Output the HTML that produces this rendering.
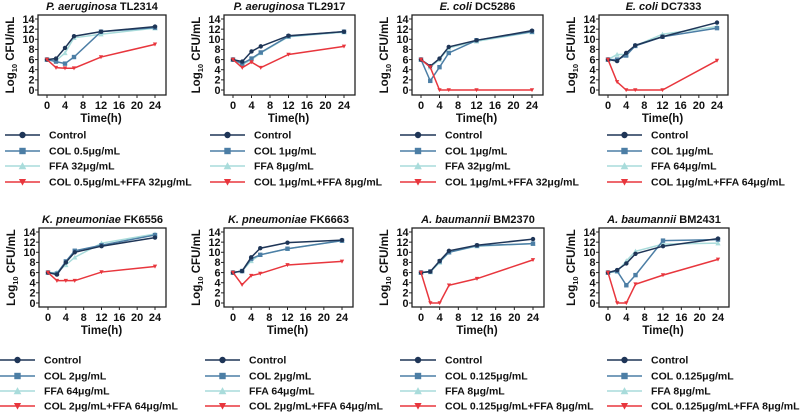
<!DOCTYPE html>
<html><head><meta charset="utf-8"><style>
html,body{margin:0;padding:0;background:#fff;}
svg{display:block;font-family:"Liberation Sans",Arial,sans-serif;font-weight:bold;}
</style></head><body>
<svg id="fig" width="800" height="412" viewBox="0 0 800 412" xmlns="http://www.w3.org/2000/svg"></svg>
<script>
const times=[0,2,4,6,12,24];
const xTicks=[0,4,8,12,16,20,24];
const yTicks=[0,2,4,6,8,10,12,14];
const seriesNames=["Control","COL","FFA","COL+FFA"];
const colors=["#1e3557","#4c7ea5","#a9dcdb","#e8363d"];
const titlesItalic=["P. aeruginosa","P. aeruginosa","E. coli","E. coli","K. pneumoniae","K. pneumoniae","A. baumannii","A. baumannii"];
const titlesStrain=["TL2314","TL2917","DC5286","DC7333","FK6556","FK6663","BM2370","BM2431"];
const control=[[6,6.2,8.3,10.6,11.5,12.5],[6,5.6,7.6,8.6,10.7,11.5],[6,4.7,6.2,8.5,9.8,11.7],[6,5.7,7.3,8.8,10.5,13.3],[6,5.6,8,10,11.2,12.9],[6,6.3,9,10.8,11.9,12.4],[6,6.2,8.3,10.3,11.4,12.6],[6,6.5,7.8,9.7,11.2,12.7]];
const col=[[6,5.6,5.2,6.5,11.5,12.3],[6,5.2,6.2,7.4,10.6,11.5],[6,1.8,4.5,7.3,9.8,11.5],[6,6.0,6.8,8.7,10.5,12.2],[6,5.8,8.2,10.3,11.4,13.4],[6,6.3,8.7,9.5,10.7,12.3],[6,6.2,8.2,10,11.3,11.7],[6,6.3,3.5,5.5,12.3,12.5]];
const ffa=[[6,5.8,7.3,10.3,11,12.2],[6,5.0,6.0,7.3,10.5,11.4],[6,4.5,6,8.3,9.6,11.4],[6,7,7,8.7,11,12.5],[6,6,7.5,9,11.8,13.6],[6,6.3,8.3,9.5,10.7,12.3],[6,6.1,8,10,11.2,11.7],[6,6.2,8.3,10.2,11.6,11.8]];
const combo=[[6,4.4,4.3,4.3,6.5,9],[6,4.4,5.5,4.4,7,8.6],[6,4.5,0,0,0,0],[6,1.6,0,0,0,5.8],[6,4.4,4.4,4.4,6.1,7.2],[6,3.6,5.4,5.8,7.5,8.2],[6,0,0,3.5,4.8,8.5],[6,0,0,3.7,5.5,8.6]];
const legendCol=["COL 0.5μg/mL","COL 1μg/mL","COL 1μg/mL","COL 1μg/mL","COL 2μg/mL","COL 2μg/mL","COL 0.125μg/mL","COL 0.125μg/mL"];
const legendFfa=["FFA 32μg/mL","FFA 8μg/mL","FFA 32μg/mL","FFA 64μg/mL","FFA 64μg/mL","FFA 64μg/mL","FFA 8μg/mL","FFA 8μg/mL"];
const legendCombo=["COL 0.5μg/mL+FFA 32μg/mL","COL 1μg/mL+FFA 8μg/mL","COL 1μg/mL+FFA 32μg/mL","COL 1μg/mL+FFA 64μg/mL","COL 2μg/mL+FFA 64μg/mL","COL 2μg/mL+FFA 64μg/mL","COL 0.125μg/mL+FFA 8μg/mL","COL 0.125μg/mL+FFA 8μg/mL"];

const NS="http://www.w3.org/2000/svg";
const svg=document.getElementById('fig');
function mk(tag,attrs,parent){const e=document.createElementNS(NS,tag);for(const k in attrs)e.setAttribute(k,attrs[k]);(parent||svg).appendChild(e);return e;}
const X0=[47,233,421,608,48,233,421,608], X24=[155,344,532,717,155,342,533,718];
const rowTop=[15,228], rowBot=[95,307], rowY14=[19,232], rowY0=[90,303];
const legY=[[135,151,166,182],[360,376,391,406]];
const legX=[[5,40],[210,245],[400,436],[607,642],[0,35],[205,240],[400,436],[607,642]];

function marker(g,type,x,y,c,s){
  if(type===0) return mk('circle',{cx:x,cy:y,r:s,fill:c},g);
  if(type===1) return mk('rect',{x:x-s,y:y-s,width:2*s,height:2*s,fill:c},g);
  if(type===2) return mk('polygon',{points:`${x},${y-s*1.2} ${x-s*1.2},${y+s} ${x+s*1.2},${y+s}`,fill:c},g);
  return mk('polygon',{points:`${x-s*1.2},${y-s} ${x+s*1.2},${y-s} ${x},${y+s*1.2}`,fill:c},g);
}

for(let p=0;p<8;p++){
  const r=p<4?0:1;
  const g=mk('g',{});
  
  
  const xs=t=>X0[p]+(X24[p]-X0[p])*t/24;
  const ys=v=>rowY0[r]+(rowY14[r]-rowY0[r])*v/14;
  const bl=X0[p]-9, br=X24[p]+11, bt=rowTop[r], bb=rowBot[r];
  const box=mk('rect',{x:bl,y:bt,width:br-bl,height:bb-bt,fill:'none',stroke:'#222','stroke-width':1.3},g);
  
  
  const tt=mk('text',{x:(bl+br)/2,y:bt-5,'text-anchor':'middle','font-size':11,fill:'#111'},g);
  
  
  const ti=mk('tspan',{'font-style':'italic'},tt);ti.textContent=titlesItalic[p]+' ';
  const ts=mk('tspan',{},tt);ts.textContent=titlesStrain[p];
  yTicks.forEach(v=>{
    mk('line',{x1:bl-3,x2:bl,y1:ys(v),y2:ys(v),stroke:'#222','stroke-width':1},g);
    const t=mk('text',{x:bl-3.5,y:ys(v)+3.8,'text-anchor':'end','font-size':10.8,fill:'#111'},g);
    
    
    t.textContent=v;
  });
  xTicks.forEach(v=>{
    mk('line',{x1:xs(v),x2:xs(v),y1:bb,y2:bb+3,stroke:'#222','stroke-width':1},g);
    const t=mk('text',{x:xs(v),y:bb+14,'text-anchor':'middle','font-size':11,fill:'#111'},g);
    
    
    t.textContent=v;
  });
  const xt=mk('text',{x:(X0[p]+X24[p])/2,y:bb+27,'text-anchor':'middle','font-size':11.5,fill:'#111'},g);
  
  
  xt.textContent='Time(h)';
  const yx=bl-24, yc=(bt+bb)/2;
  const yt=mk('text',{x:yx,y:yc,'text-anchor':'middle','font-size':11.5,fill:'#111',transform:`rotate(-90 ${yx} ${yc})`},g);
  
  
  const a=mk('tspan',{},yt);a.textContent='Log';
  const b=mk('tspan',{'font-size':7.5,dy:3},yt);b.textContent='10';
  const c=mk('tspan',{dy:-3},yt);c.textContent=' CFU/mL';
  const data=[control[p],col[p],ffa[p],combo[p]];
  [2,1,0,3].forEach(si=>{
    const vals=data[si];
    const pts=times.map((t,i)=>xs(t)+','+ys(vals[i])).join(' ');
    const ln=mk('polyline',{points:pts,fill:'none',stroke:colors[si],'stroke-width':1.5},g);
    
    
    times.forEach((t,i)=>{
      const m=marker(g,si,xs(t),ys(vals[i]),colors[si],si===3?1.8:2.2);
      
      
    });
  });
  const labels=["Control",legendCol[p],legendFfa[p],legendCombo[p]];
  labels.forEach((lab,si)=>{
    const y=legY[r][si], lx=legX[p];
    const lg=mk('g',{},g);
    
    
    mk('line',{x1:lx[0],x2:lx[1],y1:y,y2:y,stroke:colors[si],'stroke-width':1.4},lg);
    marker(lg,si,(lx[0]+lx[1])/2,y,colors[si],si===3?3:3.2);
    const t=mk('text',{x:lx[1]+9,y:y+3.7,'font-size':10.5,fill:'#111'},lg);
    t.textContent=lab;
  });
}
</script>
</body></html>
